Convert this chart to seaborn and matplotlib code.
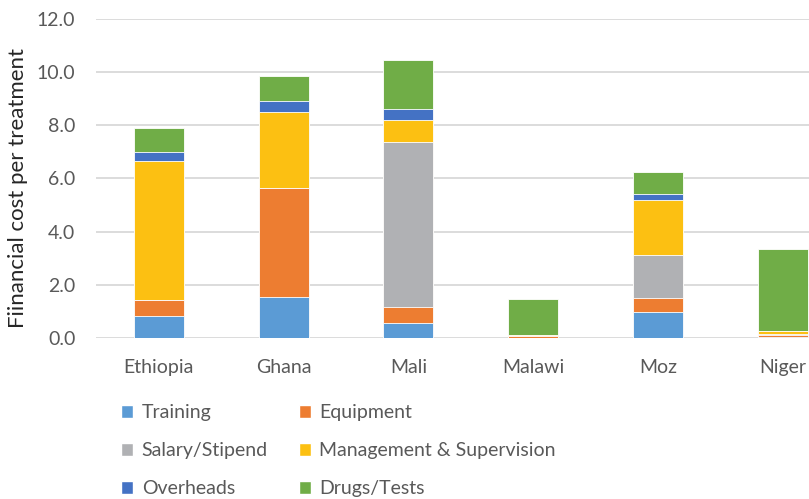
import matplotlib
matplotlib.use("Agg")
import matplotlib.pyplot as plt
import numpy as np
import pandas as pd
import seaborn as sns
from matplotlib.patches import Patch

# data
countries = ["Ethiopia", "Ghana", "Mali", "Malawi", "Moz", "Niger"]
training = [0.83, 1.54, 0.54, 0.00, 0.97, 0.03]
equipment = [0.60, 4.10, 0.62, 0.06, 0.53, 0.08]
salary = [0.00, 0.00, 6.22, 0.00, 1.60, 0.03]
management = [5.24, 2.86, 0.83, 0.03, 2.07, 0.10]
overheads = [0.33, 0.43, 0.41, 0.00, 0.26, 0.02]
drugs = [0.89, 0.94, 1.85, 1.37, 0.80, 3.09]

components = ["Training", "Equipment", "Salary/Stipend",
              "Management & Supervision", "Overheads", "Drugs/Tests"]
colors = ["#5B9BD5", "#ED7D31", "#B0B1B4", "#FCC012", "#4472C4", "#70AD47"]

df = pd.DataFrame({"country": countries, "Training": training,
                   "Equipment": equipment, "Salary/Stipend": salary,
                   "Management & Supervision": management,
                   "Overheads": overheads, "Drugs/Tests": drugs})
cum = df[components].cumsum(axis=1)
cum["country"] = countries

sns.set_theme(style="white")
plt.rcParams["font.family"] = ["Lato", "DejaVu Sans"]

fig = plt.figure(figsize=(8.09, 4.99), dpi=100)
ax = fig.add_axes([0.119, 0.323, 0.926, 0.639])

# stacked bars: draw cumulative totals from the top segment down
for comp, col in zip(components[::-1], colors[::-1]):
    sns.barplot(data=cum, x="country", y=comp, color=col, width=0.4,
                saturation=1, edgecolor="white", linewidth=0.6, ax=ax,
                zorder=3)

ax.set_xlim(-0.5, 5.5)
ax.set_ylim(0, 12)
ax.set_yticks(np.arange(0, 12.1, 2))
ax.set_yticklabels([f"{v:.1f}" for v in np.arange(0, 12.1, 2)])
ax.yaxis.grid(True, color="#D9D9D9", linewidth=1.3, zorder=0)
ax.set_axisbelow(True)
for s in ax.spines.values():
    s.set_visible(False)
ax.tick_params(axis="both", length=0, labelsize=14, labelcolor="#595959")
ax.tick_params(axis="y", pad=15)
ax.tick_params(axis="x", pad=15)
ax.set_xlabel("")
ax.set_ylabel("")
fig.text(18 / 809, 0.623, "Fiinancial cost per treatment", rotation=90,
         ha="center", va="center", fontsize=16, color="#262626")

handles = [Patch(facecolor=c, label=l) for c, l in zip(colors, components)]
order = [0, 2, 4, 1, 3, 5]
fig.legend([handles[i] for i in order], [components[i] for i in order],
           ncol=2, loc="upper left", bbox_to_anchor=(0.150, 0.19),
           frameon=False, fontsize=14, labelcolor="#595959",
           handlelength=0.6, handleheight=0.6, handletextpad=0.45,
           columnspacing=1.6, labelspacing=1.08, borderaxespad=0,
           borderpad=0)

fig.savefig("out.png", dpi=100)
